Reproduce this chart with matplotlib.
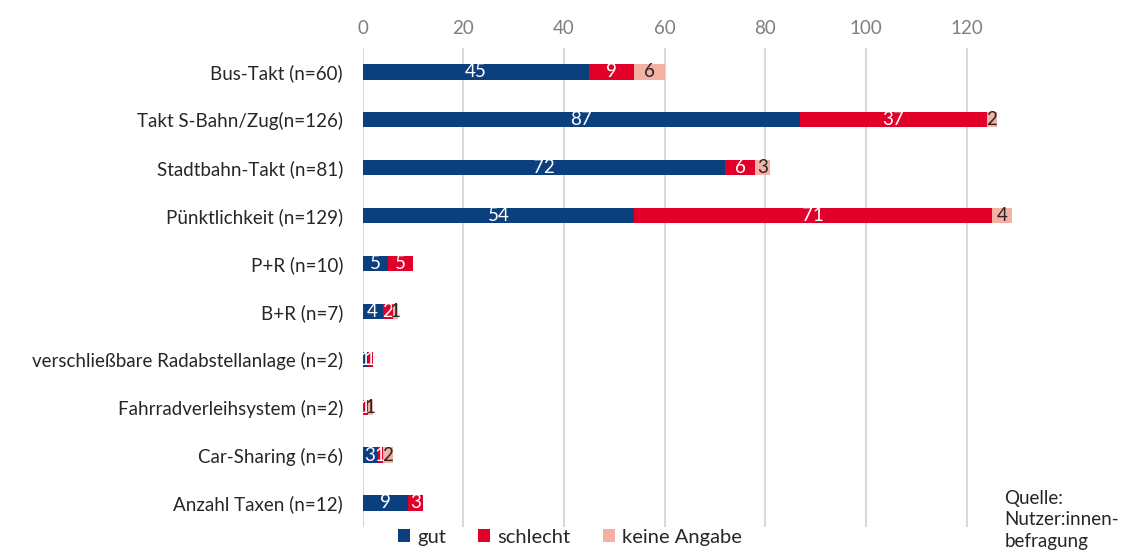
import numpy as np
import matplotlib.pyplot as plt

plt.rcParams['font.family'] = ['Lato', 'DejaVu Sans']

categories = ['Bus-Takt (n=60)', 'Takt S-Bahn/Zug(n=126)', 'Stadtbahn-Takt (n=81)',
              'Pünktlichkeit (n=129)', 'P+R (n=10)', 'B+R (n=7)',
              'verschließbare Radabstellanlage (n=2)', 'Fahrradverleihsystem (n=2)',
              'Car-Sharing (n=6)', 'Anzahl Taxen (n=12)']
gut = [45, 87, 72, 54, 5, 4, 1, 0, 3, 9]
schlecht = [9, 37, 6, 71, 5, 2, 1, 1, 1, 3]
keine = [6, 2, 3, 4, 0, 1, 0, 1, 2, 0]

series = [('gut', gut, '#0B3F7E', 'white'),
          ('schlecht', schlecht, '#E1002A', 'white'),
          ('keine Angabe', keine, '#F4B1A3', '#262626')]

fig = plt.figure(figsize=(11.4, 5.57), dpi=100)
ax = fig.add_axes([0.318, 0.054, 0.574, 0.860])

y = np.arange(len(categories))
left = np.zeros(len(categories))
for name, vals, color, tcol in series:
    vals = np.array(vals, dtype=float)
    ax.barh(y, vals, left=left, height=0.32, color=color, label=name, zorder=3)
    for yi, l, v in zip(y, left, vals):
        if v > 0:
            ax.text(l + v / 2, yi, f'{int(v)}', ha='center', va='center',
                    color=tcol, fontsize=13.5, zorder=4)
    left += vals

ax.set_xlim(0, 130)
ax.set_ylim(len(categories) - 0.5, -0.5)
ax.set_yticks(y)
ax.set_yticklabels(categories, fontsize=13.5, color='#262626')
ax.set_xticks(range(0, 121, 20))
ax.xaxis.tick_top()
ax.tick_params(axis='x', colors='#7F7F7F', labelsize=13.5, length=0, pad=8)
ax.tick_params(axis='y', length=0, pad=14)
ax.grid(axis='x', color='#D9D9D9', linewidth=1.5, zorder=0)
for s in ax.spines.values():
    s.set_visible(False)

fig.legend(*ax.get_legend_handles_labels(), loc='lower center',
           bbox_to_anchor=(0.5, -0.012), ncol=3, frameon=False,
           fontsize=14.5, handlelength=0.6, handleheight=0.6, handletextpad=0.35,
           columnspacing=1.6, labelcolor='#262626')

fig.text(0.881, 0.012, 'Quelle:\nNutzer:innen-\nbefragung', fontsize=13.5,
         color='#262626', ha='left', va='bottom', linespacing=1.35)

fig.savefig('out.png', dpi=100)
